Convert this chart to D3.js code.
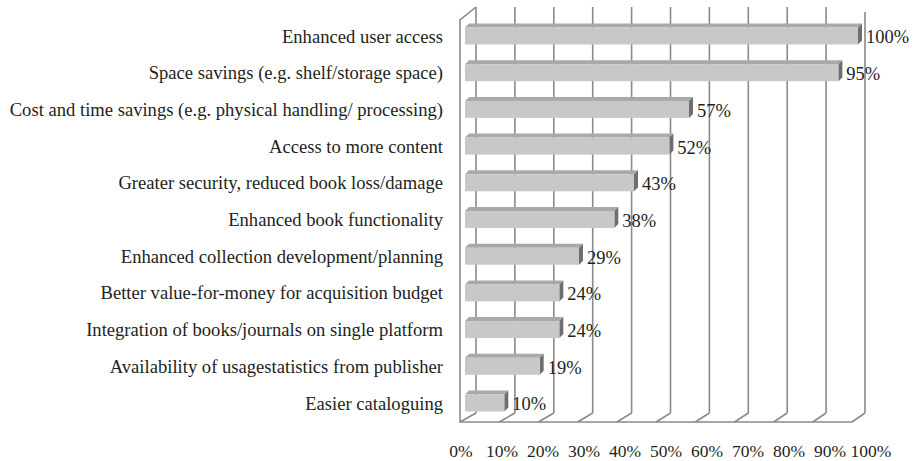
<!DOCTYPE html>
<html>
<head>
<meta charset="utf-8">
<script src="https://cdn.jsdelivr.net/npm/d3@7"></script>
<style>
  body { margin: 0; background: #fff; }
  text { font-family: "Liberation Serif", "Times New Roman", serif; fill: #231f20; }
</style>
</head>
<body>
<svg id="chart" width="914" height="461"></svg>
<script>
// categories, top to bottom
const categories = [
    "Enhanced user access",
    "Space savings (e.g. shelf/storage space)",
    "Cost and time savings (e.g. physical handling/ processing)",
    "Access to more content",
    "Greater security, reduced book loss/damage",
    "Enhanced book functionality",
    "Enhanced collection development/planning",
    "Better value-for-money for acquisition budget",
    "Integration of books/journals on single platform",
    "Availability of usagestatistics from publisher",
    "Easier cataloguing"
];
const values = [100, 95, 57, 52, 43, 38, 29, 24, 24, 19, 10];
const ticks = [0, 10, 20, 30, 40, 50, 60, 70, 80, 90, 100];

const svg = d3.select("#chart");

// 3d box: back wall and front edge of the floor
const xBack = d3.scaleLinear().domain([0, 100]).range([476, 865]);
const xFront = d3.scaleLinear().domain([0, 100]).range([460, 852]);
const xBar = d3.scaleLinear().domain([0, 100]).range([465, 858]);
const xLabel = d3.scaleLinear().domain([0, 100]).range([461, 871]);
const y = d3.scalePoint().domain(categories).range([36, 403]);

const wallTop = {back: 7, front: 20};
const floor = {back: 413, front: 422};
const lineColor = "#8a8a8a";

const grid = svg.append("g")
    .attr("stroke", lineColor)
    .attr("stroke-width", 1.6)
    .attr("fill", "none");

// back wall verticals
grid.selectAll("line.v")
    .data(ticks)
    .join("line")
        .attr("class", "v")
        .attr("x1", d => xBack(d))
        .attr("x2", d => xBack(d))
        .attr("y1", d => d === 100 ? 12 : wallTop.back)
        .attr("y2", floor.back);

// floor diagonals
grid.selectAll("line.f")
    .data(ticks)
    .join("line")
        .attr("class", "f")
        .attr("x1", d => xFront(d))
        .attr("x2", d => xBack(d))
        .attr("y1", floor.front)
        .attr("y2", floor.back);

// side wall + floor front edge
grid.append("path")
    .attr("d", `M${xBack(0)},${wallTop.back} L${xFront(0)},${wallTop.front} L${xFront(0)},${floor.front} L${xFront(100)},${floor.front}`);

// bars
const barH = 17, depth = {dx: 4, dy: 4};

const bars = svg.append("g")
    .selectAll("g")
    .data(categories.map((c, i) => ({cat: c, value: values[i]})))
    .join("g")
        .attr("transform", d => `translate(0,${y(d.cat) - barH / 2})`);

bars.append("path")   // top face
    .attr("fill", "#a9a9a9")
    .attr("d", d => {
        const x0 = xBar(0), x1 = xBar(d.value);
        return `M${x0},0 L${x0 + depth.dx},${-depth.dy} L${x1 + depth.dx},${-depth.dy} L${x1},0 Z`;
    });

bars.append("path")   // side face
    .attr("fill", "#6e6e6e")
    .attr("d", d => {
        const x1 = xBar(d.value);
        return `M${x1},0 L${x1 + depth.dx},${-depth.dy} L${x1 + depth.dx},${barH - depth.dy} L${x1},${barH} Z`;
    });

bars.append("rect")   // front face
    .attr("fill", "#c8c8c8")
    .attr("x", xBar(0))
    .attr("y", 0)
    .attr("width", d => xBar(d.value) - xBar(0))
    .attr("height", barH);

// value labels
bars.append("text")
    .attr("x", d => xBar(d.value) + depth.dx + 4)
    .attr("y", barH / 2 + 1)
    .attr("dy", "0.35em")
    .attr("font-size", 18.5)
    .text(d => d.value + "%");

// category labels
svg.append("g")
    .attr("text-anchor", "end")
    .selectAll("text")
    .data(categories)
    .join("text")
        .attr("x", 443)
        .attr("y", d => y(d))
        .attr("dy", "0.35em")
        .attr("font-size", 18.6)
        .text(d => d);

// tick labels
svg.append("g")
    .attr("text-anchor", "middle")
    .selectAll("text")
    .data(ticks)
    .join("text")
        .attr("x", d => xLabel(d))
        .attr("y", 451)
        .attr("dy", "0.35em")
        .attr("font-size", 17.5)
        .text(d => d + "%");
</script>
</body>
</html>
